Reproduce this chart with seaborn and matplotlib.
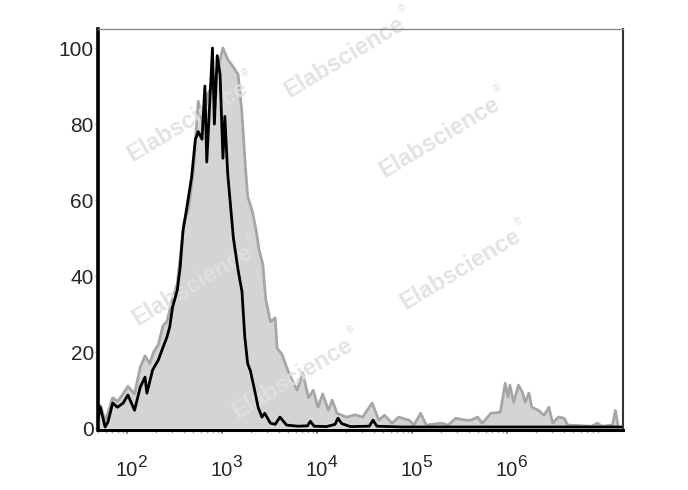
import numpy as np
import pandas as pd
import seaborn as sns
import matplotlib.pyplot as plt
from matplotlib.ticker import LogLocator, NullFormatter

# =========================================
# DATA (log10 fluorescence intensity, % of max)
# =========================================
control_log = [1.70, 1.72, 1.77, 1.80, 1.85, 1.90, 1.96, 2.01, 2.08, 2.14, 2.19, 2.21,
               2.27, 2.33, 2.38, 2.42, 2.45, 2.48, 2.53, 2.56, 2.59, 2.63, 2.68, 2.72,
               2.75, 2.79, 2.82, 2.84, 2.90, 2.92, 2.95, 2.98, 3.01, 3.03, 3.06, 3.12,
               3.17, 3.21, 3.24, 3.27, 3.30, 3.35, 3.38, 3.42, 3.45, 3.51, 3.56, 3.61,
               3.68, 3.80, 3.90, 3.93, 3.97, 4.10, 4.19, 4.22, 4.26, 4.35, 4.55, 4.59,
               4.63, 4.89, 5.20, 5.60, 6.00, 6.50, 7.00, 7.22]
control_pct = [3.0, 5.5, 0.3, 1.6, 6.6, 5.5, 6.6, 8.7, 4.7, 10.8, 13.4, 9.2,
               15.3, 17.9, 21.3, 23.9, 26.6, 31.8, 36.3, 42.4, 52.0, 58.0, 66.0, 76.0,
               78.0, 76.0, 90.0, 70.0, 100.0, 80.0, 98.0, 93.0, 71.0, 82.0, 67.0, 50.0,
               41.5, 36.0, 24.0, 17.0, 15.0, 9.2, 5.5, 2.9, 3.9, 1.3, 1.0, 2.9,
               0.8, 0.5, 0.6, 1.8, 0.5, 0.4, 1.0, 2.6, 1.2, 0.4, 0.5, 2.1,
               0.5, 0.3, 0.3, 0.3, 0.3, 0.3, 0.3, 0.3]

sample_log = [1.70, 1.72, 1.77, 1.80, 1.85, 1.90, 1.96, 2.01, 2.08, 2.14, 2.19, 2.24,
              2.28, 2.33, 2.38, 2.42, 2.45, 2.48, 2.53, 2.56, 2.60, 2.65, 2.70, 2.75,
              2.80, 2.85, 2.90, 2.95, 3.01, 3.06, 3.12, 3.17, 3.21, 3.24, 3.27, 3.32,
              3.36, 3.39, 3.43, 3.46, 3.51, 3.56, 3.58, 3.63, 3.68, 3.73, 3.79, 3.85,
              3.91, 3.96, 4.01, 4.06, 4.12, 4.16, 4.21, 4.31, 4.40, 4.48, 4.58, 4.65,
              4.71, 4.79, 4.86, 4.97, 5.02, 5.09, 5.15, 5.31, 5.38, 5.46, 5.56, 5.62,
              5.69, 5.74, 5.83, 5.93, 5.98, 6.01, 6.03, 6.07, 6.12, 6.16, 6.19, 6.23,
              6.26, 6.33, 6.39, 6.44, 6.48, 6.54, 6.60, 6.64, 6.89, 6.95, 7.00, 7.11,
              7.14, 7.17]
sample_pct = [4.0, 6.0, 2.0, 4.0, 8.0, 7.0, 9.0, 11.0, 9.0, 16.0, 19.0, 17.0,
              20.0, 22.0, 27.0, 28.0, 31.0, 34.0, 38.0, 45.0, 54.0, 58.0, 68.0, 86.0,
              80.0, 88.0, 90.0, 94.0, 100.0, 97.0, 95.0, 93.0, 83.0, 71.0, 61.0, 57.0,
              52.0, 47.0, 43.0, 34.0, 28.0, 29.0, 21.0, 19.5, 16.0, 13.0, 10.0, 14.5,
              8.0, 10.0, 5.5, 9.0, 4.7, 7.4, 3.9, 2.9, 3.5, 2.9, 6.6, 2.1,
              3.4, 1.3, 2.9, 2.1, 0.8, 3.9, 0.8, 1.3, 0.8, 2.6, 2.1, 2.1,
              2.9, 1.3, 3.9, 4.2, 11.8, 8.2, 11.3, 6.8, 11.3, 9.5, 6.8, 9.2,
              5.5, 4.7, 3.4, 5.5, 1.3, 2.9, 2.6, 0.8, 0.5, 1.3, 0.5, 0.8,
              4.7, 0.3]

y_ticks = [0, 20, 40, 60, 80, 100]
x_tick_exp = [2, 3, 4, 5, 6]
watermark = "Elabscience"

df_ctrl = pd.DataFrame({"x": np.power(10.0, control_log), "pct": control_pct})
df_samp = pd.DataFrame({"x": np.power(10.0, sample_log), "pct": sample_pct})

# =========================================
# PLOT
# =========================================
sns.set_theme(style="white")
plt.rcParams['font.family'] = ['Liberation Sans', 'DejaVu Sans']

fig = plt.figure(figsize=(6.88, 4.90), dpi=100)
ax = fig.add_axes([0.1424, 0.1224, 0.7631, 0.8184])
ax.set_xscale('log')

ax.fill_between(df_samp["x"], df_samp["pct"], 0, color="#d4d4d4", lw=0, zorder=1)
sns.lineplot(data=df_samp, x="x", y="pct", color="#a6a6a6", lw=2.0, ax=ax,
             sort=False, zorder=2)

# watermarks
for (wx, wy) in [(0.47, 0.93), (0.17, 0.77), (0.65, 0.73), (0.18, 0.36),
                 (0.69, 0.40), (0.37, 0.13)]:
    ax.text(wx, wy, watermark, transform=ax.transAxes, rotation=31,
            fontsize=17, fontweight='bold', color="#e0e0e0", alpha=0.9,
            ha='center', va='center', zorder=2.5, clip_on=False)
    ax.text(wx + 0.11, wy + 0.12, "®", transform=ax.transAxes, rotation=31,
            fontsize=7, color="#e0e0e0", ha='center', va='center', zorder=2.5,
            clip_on=False)

sns.lineplot(data=df_ctrl, x="x", y="pct", color="black", lw=2.0, ax=ax,
             sort=False, zorder=3)

ax.set_xlim(10 ** 1.695, 10 ** 7.22)
ax.set_ylim(-0.5, 105)
ax.set_xlabel("")
ax.set_ylabel("")

ax.set_yticks(y_ticks)
ax.set_yticklabels([str(v) for v in y_ticks], fontsize=15)
ax.set_xticks([10.0 ** e for e in x_tick_exp])
ax.set_xticklabels(["10"] * len(x_tick_exp), fontsize=14.5)
for e in x_tick_exp:
    ax.annotate(str(e), xy=(10.0 ** e, 0), xycoords=('data', 'axes fraction'),
                xytext=(7.6, -26.6), textcoords='offset points',
                ha='left', va='baseline', fontsize=12.5, color='#262626',
                annotation_clip=False)
ax.xaxis.set_minor_locator(LogLocator(base=10, subs=np.arange(2, 10)))
ax.xaxis.set_minor_formatter(NullFormatter())

ax.tick_params(axis='y', which='major', length=2, width=1, color='#808080', pad=1,
               left=True, labelcolor='#262626')
ax.tick_params(axis='x', which='major', length=3, width=1.2, color='#808080', pad=19.3,
               bottom=True, labelcolor='#262626')
ax.tick_params(axis='x', which='minor', length=2, width=1, color='#b0b0b0', bottom=True)

for side in ['left', 'right', 'top', 'bottom']:
    ax.spines[side].set_visible(True)
    ax.spines[side].set_zorder(4)
ax.spines['left'].set_color('black')
ax.spines['left'].set_linewidth(2.6)
ax.spines['bottom'].set_color('black')
ax.spines['bottom'].set_linewidth(2.2)
ax.spines['right'].set_color('#333333')
ax.spines['right'].set_linewidth(1.5)
ax.spines['top'].set_color('#8a8a8a')
ax.spines['top'].set_linewidth(1.0)

fig.savefig("out.png", dpi=100)
